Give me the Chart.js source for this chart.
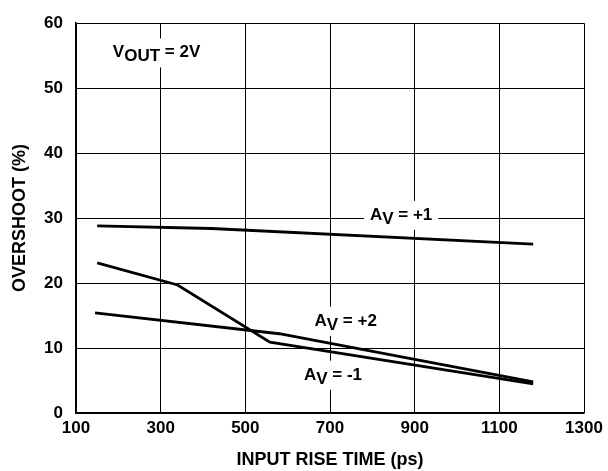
<!DOCTYPE html>
<html>
<head>
<meta charset="utf-8">
<script src="https://cdn.jsdelivr.net/npm/chart.js@4"></script>
<style>
  html, body { margin: 0; padding: 0; background: #fff; }
  #wrap { width: 608px; height: 471px; position: relative; }
</style>
</head>
<body>
<div id="wrap"><canvas id="c" width="608" height="471"></canvas></div>
<script>
// ---- data ----
const xTicks = [100, 300, 500, 700, 900, 1100, 1300];
const yTicks = [0, 10, 20, 30, 40, 50, 60];

const avPlus1X = [150, 420, 1180];
const avPlus1Y = [28.8, 28.4, 26.0];

const avMinus1X = [150, 340, 558, 1180];
const avMinus1Y = [23.1, 19.7, 10.9, 4.5];

const avPlus2X = [145, 580, 1180];
const avPlus2Y = [15.4, 12.2, 4.8];

const xTitle = 'INPUT RISE TIME (ps)';
const yTitle = 'OVERSHOOT (%)';

// text labels: main letter, subscript, rest, anchor x (ps), anchor y (%)
const noteMain = ['V', 'A', 'A', 'A'];
const noteSub = ['OUT', 'V', 'V', 'V'];
const noteRest = [' = 2V', ' = +1', ' = +2', ' = -1'];
const noteX = [187, 868, 737, 707];
const noteY = [55.5, 30.5, 14.2, 5.9];
const noteAlign = ['left', 'center', 'center', 'center'];

function pairs(xs, ys) { return xs.map((x, i) => ({ x: x, y: ys[i] })); }

const FONT = '"Liberation Sans", Arial, sans-serif';

const notesPlugin = {
  id: 'notes',
  beforeDatasetsDraw(chart) {
    const ctx = chart.ctx;
    const xs = chart.scales.x, ys = chart.scales.y;
    ctx.save();
    ctx.font = 'bold 17px ' + FONT;
    ctx.textBaseline = 'alphabetic';
    for (let i = 0; i < noteMain.length; i++) {
      const w1 = ctx.measureText(noteMain[i]).width;
      const w2 = ctx.measureText(noteSub[i]).width;
      const w3 = ctx.measureText(noteRest[i]).width;
      const total = w1 + w2 + w3;
      const px = xs.getPixelForValue(noteX[i]);
      const py = ys.getPixelForValue(noteY[i]);
      const left = noteAlign[i] === 'left' ? px : px - total / 2;
      const base = py + 5;
      ctx.fillStyle = '#fff';
      ctx.fillRect(left - 6, py - 14, total + 12, 29);
      ctx.fillStyle = '#000';
      ctx.fillText(noteMain[i], left, base);
      ctx.fillText(noteSub[i], left + w1, base + 4);
      ctx.fillText(noteRest[i], left + w1 + w2, base);
    }
    ctx.restore();
  }
};

const lineStyle = {
  borderColor: '#000',
  borderWidth: 2.8,
  pointRadius: 0,
  fill: false,
  tension: 0,
  borderCapStyle: 'butt',
  borderJoinStyle: 'miter'
};

new Chart(document.getElementById('c'), {
  type: 'line',
  data: {
    datasets: [
      Object.assign({ label: 'AV = +1', data: pairs(avPlus1X, avPlus1Y) }, lineStyle),
      Object.assign({ label: 'AV = -1', data: pairs(avMinus1X, avMinus1Y) }, lineStyle),
      Object.assign({ label: 'AV = +2', data: pairs(avPlus2X, avPlus2Y) }, lineStyle)
    ]
  },
  options: {
    responsive: false,
    animation: false,
    events: [],
    layout: { padding: { top: 16, right: 24, left: 0, bottom: 0 } },
    plugins: { legend: { display: false }, tooltip: { enabled: false } },
    scales: {
      x: {
        type: 'linear',
        min: xTicks[0],
        max: xTicks[xTicks.length - 1],
        afterBuildTicks(s) { s.ticks = xTicks.map(v => ({ value: v })); },
        afterFit(s) { s.height = 58; },
        grid: { color: '#000', lineWidth: 1, drawTicks: false },
        border: { color: '#000', width: 1.5 },
        ticks: {
          color: '#000',
          padding: 5,
          maxRotation: 0,
          autoSkip: false,
          callback: v => String(v),
          font: { family: FONT, size: 17, weight: 'bold' }
        },
        title: {
          display: true,
          text: xTitle,
          color: '#000',
          padding: { top: 0, bottom: 0 },
          font: { family: FONT, size: 18, weight: 'bold', lineHeight: 1.2 }
        }
      },
      y: {
        type: 'linear',
        min: yTicks[0],
        max: yTicks[yTicks.length - 1],
        afterBuildTicks(s) { s.ticks = yTicks.map(v => ({ value: v })); },
        afterFit(s) { s.width = 76; },
        grid: { color: '#000', lineWidth: 1, drawTicks: false },
        border: { color: '#000', width: 1.5 },
        ticks: {
          color: '#000',
          padding: 13,
          autoSkip: false,
          callback: v => String(v),
          font: { family: FONT, size: 17, weight: 'bold' }
        },
        title: {
          display: true,
          text: yTitle,
          color: '#000',
          padding: { top: 9, bottom: 0 },
          font: { family: FONT, size: 18, weight: 'bold', lineHeight: 1.2 }
        }
      }
    }
  },
  plugins: [notesPlugin]
});
</script>
</body>
</html>
